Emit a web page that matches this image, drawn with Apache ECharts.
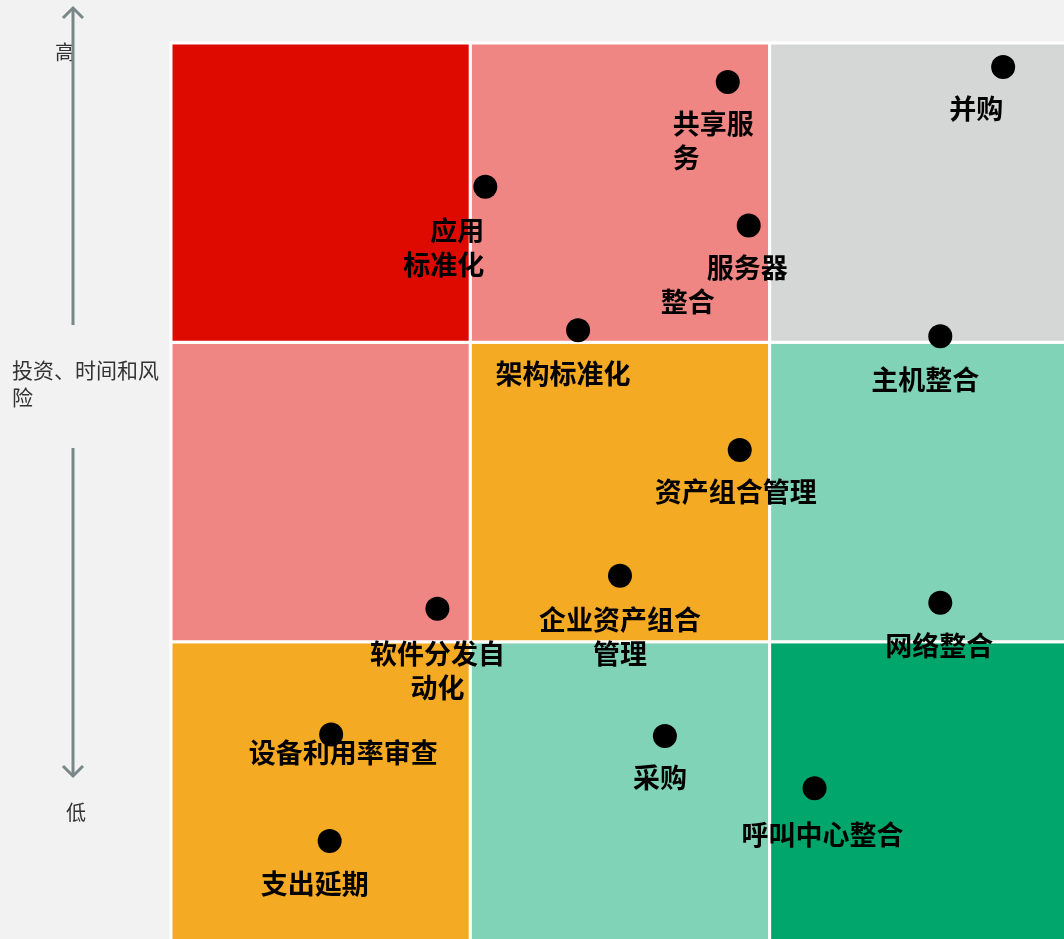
<!DOCTYPE html>
<html>
<head>
<meta charset="utf-8">
<script src="https://cdn.jsdelivr.net/npm/echarts@6/dist/echarts.min.js"></script>
<style>
  html, body { margin: 0; padding: 0; background: #f2f2f2; overflow: hidden; }
  #main { width: 1100px; height: 980px; }
</style>
</head>
<body>
<div id="main"></div>
<script>
// 项目名称与坐标（横轴 0~3，纵轴 0~3）
var names = ['并购', '共享服务', '应用标准化', '服务器整合', '架构标准化', '主机整合', '资产组合管理',
  '企业资产组合管理', '网络整合', '软件分发自动化', '设备利用率审查', '采购', '呼叫中心整合', '支出延期'];
var xValues = [2.78, 1.86, 1.05, 1.93, 1.36, 2.57, 1.90, 1.50, 2.57, 0.89, 0.535, 1.65, 2.15, 0.53];
var yValues = [2.92, 2.87, 2.52, 2.39, 2.04, 2.02, 1.64, 1.22, 1.13, 1.11, 0.69, 0.685, 0.51, 0.334];

// 九宫格区域等级（由下往上，每行从左到右）
var zoneLevel = [
  [2, 1, 0],
  [3, 2, 1],
  [4, 3, 5]
];

// 纵轴说明文字
var axisTitle = '投资、时间和风\n险';
var axisHigh = '高';
var axisLow = '低';

// 样式
var zoneColors = ['#00a66c', '#80d3b7', '#f5aa24', '#ef8683', '#de0a00', '#d5d7d6'];
var labelFont = 'Noto Sans CJK SC';

// 标签显示方式（文字、对齐、偏移）
var labelLayout = [
  { text: '并购', align: 'center', offset: [-27, 42] },
  { text: '共享服\n务', align: 'left', offset: [-55, 59] },
  { text: '应用\n标准化', align: 'right', offset: [-1, 61] },
  { text: '{a|服务器}\n{b|整合}', align: 'left', offset: [-88, 59] },
  { text: '架构标准化', align: 'center', offset: [-15, 43] },
  { text: '主机整合', align: 'center', offset: [-15, 43] },
  { text: '资产组合管理', align: 'center', offset: [-4, 42] },
  { text: '企业资产组合\n管理', align: 'center', offset: [0, 61] },
  { text: '网络整合', align: 'center', offset: [-1, 43] },
  { text: '软件分发自\n动化', align: 'center', offset: [0, 62] },
  { text: '设备利用率审查', align: 'center', offset: [12, 18] },
  { text: '采购', align: 'center', offset: [-5, 42] },
  { text: '呼叫中心整合', align: 'center', offset: [8, 46] },
  { text: '支出延期', align: 'center', offset: [-15, 43] }
];

var cellData = [];
zoneLevel.forEach(function (row, r) {
  row.forEach(function (level, c) {
    cellData.push([c, r, level]);
  });
});

var pointData = names.map(function (name, i) {
  var lay = labelLayout[i];
  return {
    name: name,
    value: [xValues[i], yValues[i]],
    label: {
      formatter: lay.text,
      align: lay.align,
      offset: lay.offset
    }
  };
});

function renderCell(params, api) {
  var p0 = api.coord([api.value(0), api.value(1) + 1]);
  var p1 = api.coord([api.value(0) + 1, api.value(1)]);
  return {
    type: 'rect',
    shape: { x: p0[0], y: p0[1], width: p1[0] - p0[0], height: p1[1] - p0[1] },
    style: { fill: zoneColors[api.value(2)], stroke: '#ffffff', lineWidth: 3 }
  };
}

var chart = echarts.init(document.getElementById('main'));

var arrowStyle = { stroke: '#7a8787', lineWidth: 3 };

var option = {
  backgroundColor: '#f2f2f2',
  animation: false,
  grid: { left: 171, top: 43, width: 898, height: 898 },
  xAxis: { type: 'value', min: 0, max: 3, show: false },
  yAxis: { type: 'value', min: 0, max: 3, show: false },
  graphic: [
    { type: 'text', left: 55, top: 42, style: { text: axisHigh, font: '20px ' + labelFont, fill: '#333' } },
    { type: 'polyline', shape: { points: [[73, 325], [73, 9]] }, style: arrowStyle },
    { type: 'polyline', shape: { points: [[63, 18], [73, 8], [83, 18]] }, style: arrowStyle },
    { type: 'text', left: 12, top: 357, style: { text: axisTitle, font: '21px ' + labelFont, fill: '#333', lineHeight: 27 } },
    { type: 'polyline', shape: { points: [[73, 448], [73, 775]] }, style: arrowStyle },
    { type: 'polyline', shape: { points: [[63, 766], [73, 776], [83, 766]] }, style: arrowStyle },
    { type: 'text', left: 66, top: 802, style: { text: axisLow, font: '20px ' + labelFont, fill: '#333' } }
  ],
  series: [
    {
      type: 'custom',
      renderItem: renderCell,
      data: cellData,
      z: 1
    },
    {
      type: 'scatter',
      data: pointData,
      symbolSize: 24,
      itemStyle: { color: '#000000', opacity: 1 },
      z: 2,
      label: {
        show: true,
        position: 'inside',
        verticalAlign: 'middle',
        color: '#000000',
        fontSize: 27,
        fontWeight: 'bold',
        fontFamily: labelFont,
        lineHeight: 34,
        rich: {
          a: { fontSize: 27, fontWeight: 'bold', fontFamily: labelFont, color: '#000', lineHeight: 34, padding: [0, 0, 0, 46] },
          b: { fontSize: 27, fontWeight: 'bold', fontFamily: labelFont, color: '#000', lineHeight: 34 }
        }
      },
      emphasis: { disabled: true }
    }
  ]
};

chart.setOption(option);
</script>
</body>
</html>
